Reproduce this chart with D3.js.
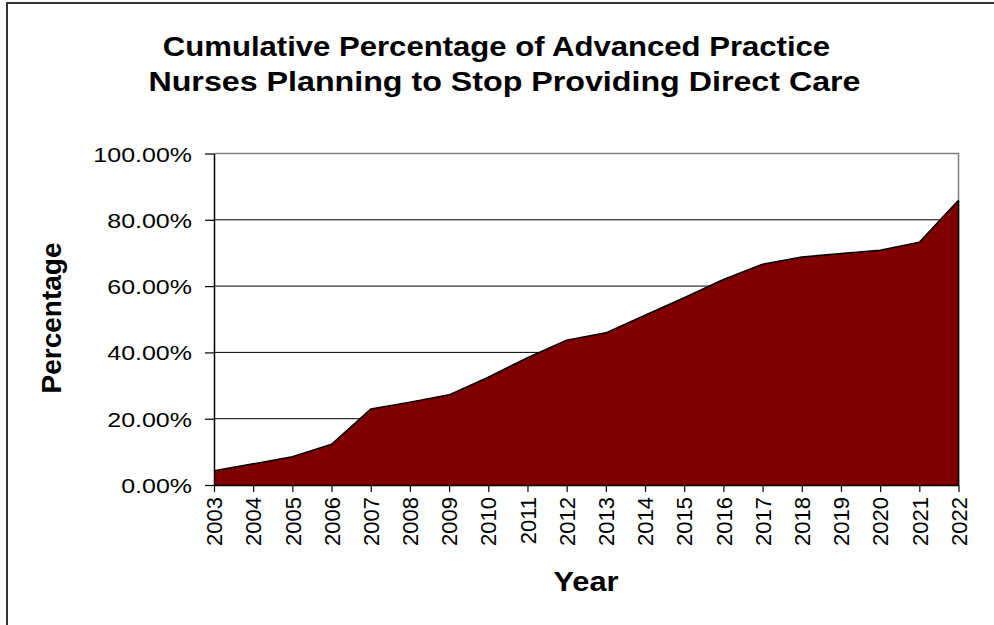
<!DOCTYPE html>
<html>
<head>
<meta charset="utf-8">
<script src="https://cdn.jsdelivr.net/npm/d3@7"></script>
<style>
  html, body { margin: 0; padding: 0; background: #fff; }
  svg { display: block; font-family: "Liberation Sans", Arial, sans-serif; }
</style>
</head>
<body>
<svg id="chart" width="994" height="625"></svg>
<script>
// Cumulative share of advanced practice nurses planning to stop direct care
const years = [2003, 2004, 2005, 2006, 2007, 2008, 2009, 2010, 2011, 2012,
               2013, 2014, 2015, 2016, 2017, 2018, 2019, 2020, 2021, 2022];
const cumulativePct = [4.3, 6.4, 8.5, 12.3, 22.9, 25.0, 27.2, 32.5, 38.4, 43.7,
                       45.9, 51.2, 56.5, 62.0, 66.6, 68.8, 69.8, 70.8, 73.2, 85.9];
const yTicks = [0, 20, 40, 60, 80, 100];
const titleLines = ["Cumulative Percentage of Advanced Practice",
                    "Nurses Planning to Stop Providing Direct Care"];
const xTitle = "Year";
const yTitle = "Percentage";

const svg = d3.select("#chart");
const plot = { left: 214, right: 958.5, top: 153.5, bottom: 485 };

// Widen a text node horizontally by a factor, keeping its glyph height
function widen(sel, factor) {
  sel.each(function () {
    const w = this.getComputedTextLength();
    d3.select(this).attr("textLength", w * factor).attr("lengthAdjust", "spacingAndGlyphs");
  });
}

svg.append("rect").attr("width", 994).attr("height", 625).attr("fill", "#fff");

// Outer chart frame (only top and left edges fall inside the view)
svg.append("path")
  .attr("d", "M7,1000V3H1000")
  .attr("fill", "none").attr("stroke", "#333").attr("stroke-width", 2);

const x = d3.scaleLinear().domain([years[0], years[years.length - 1]]).range([plot.left, plot.right]);
const y = d3.scaleLinear().domain([0, 100]).range([plot.bottom, plot.top]);

// Gridlines
svg.append("g").selectAll("line")
  .data(yTicks.filter(t => t > 0 && t < 100))
  .join("line")
  .attr("x1", plot.left).attr("x2", plot.right)
  .attr("y1", d => y(d)).attr("y2", d => y(d))
  .attr("stroke", "#000").attr("stroke-width", 1);

// Plot-area border (top and right)
svg.append("path")
  .attr("d", `M${plot.left},${y(100)}H${plot.right}V${plot.bottom}`)
  .attr("fill", "none").attr("stroke", "#808080").attr("stroke-width", 1.5);

const series = years.map((yr, i) => ({ year: yr, value: cumulativePct[i] }));

// Filled area
svg.append("path")
  .datum(series)
  .attr("d", d3.area().x(d => x(d.year)).y0(y(0)).y1(d => y(d.value)))
  .attr("fill", "#800000");

// Outline along the top of the area plus the right edge
svg.append("path")
  .datum(series)
  .attr("d", d3.line().x(d => x(d.year)).y(d => y(d.value)))
  .attr("fill", "none").attr("stroke", "#000").attr("stroke-width", 1.5)
  .attr("stroke-linejoin", "round");
svg.append("line")
  .attr("x1", x(years[years.length - 1])).attr("x2", x(years[years.length - 1]))
  .attr("y1", y(cumulativePct[cumulativePct.length - 1])).attr("y2", y(0))
  .attr("stroke", "#000").attr("stroke-width", 1.5);

// Y axis
const yAxis = svg.append("g")
  .attr("transform", `translate(${plot.left},0)`)
  .call(d3.axisLeft(y).tickValues(yTicks).tickSizeInner(9).tickSizeOuter(0).tickPadding(13)
    .tickFormat(d => d.toFixed(2) + "%"));
yAxis.select(".domain").attr("stroke", "#000").attr("stroke-width", 1.5);
yAxis.selectAll(".tick line").attr("stroke", "#000").attr("stroke-width", 1.2);
yAxis.selectAll(".tick text")
  .attr("font-family", "Liberation Sans, Arial, sans-serif")
  .attr("font-size", 21).attr("fill", "#000").attr("dy", "0.36em")
  .call(widen, 1.19);

// X axis
const xAxis = svg.append("g")
  .attr("transform", `translate(0,${plot.bottom})`)
  .call(d3.axisBottom(x).tickValues(years).tickSizeInner(7).tickSizeOuter(0).tickFormat(d3.format("d")));
xAxis.select(".domain").attr("stroke", "#000").attr("stroke-width", 1.5);
xAxis.selectAll(".tick line").attr("stroke", "#000").attr("stroke-width", 1.2);
xAxis.selectAll(".tick text")
  .attr("font-family", "Liberation Sans, Arial, sans-serif")
  .attr("font-size", 22).attr("fill", "#000")
  .attr("text-anchor", "end")
  .attr("transform", "rotate(-90)")
  .attr("x", -12).attr("y", 0).attr("dy", "0.35em");

// Titles
const titleCenters = [496.5, 504.5];
const titleStretch = [1.11, 1.15];
const title = svg.append("g").attr("font-weight", "bold").attr("fill", "#000")
  .attr("text-anchor", "middle").attr("font-size", 28);
title.selectAll("text").data(titleLines).join("text")
  .attr("x", (d, i) => titleCenters[i]).attr("y", (d, i) => 56 + i * 35)
  .text(d => d)
  .each(function (d, i) { d3.select(this).call(widen, titleStretch[i]); });

svg.append("text")
  .attr("x", 586).attr("y", 591)
  .attr("text-anchor", "middle").attr("font-weight", "bold").attr("font-size", 28)
  .text(xTitle)
  .call(widen, 1.1);

svg.append("text")
  .attr("transform", "translate(61,318) rotate(-90)")
  .attr("text-anchor", "middle").attr("font-weight", "bold").attr("font-size", 28)
  .text(yTitle);
</script>
</body>
</html>
